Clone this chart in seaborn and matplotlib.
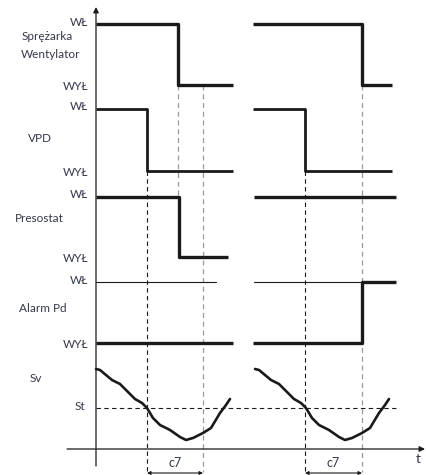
"""Timing diagram: compressor / VPD / pressostat / alarm vs Sv"""
import matplotlib
matplotlib.use("Agg")
import matplotlib.pyplot as plt
import numpy as np
import pandas as pd
import seaborn as sns

# time axis (t = 0 at the vertical axis), two cycles
CYCLE2 = 159

# row levels (ON / OFF) for each signal, top to bottom
ROWS = ["Sprężarka\nWentylator", "VPD", "Presostat", "Alarm Pd"]
LEVEL_ON = [24, 109, 197, 282]
LEVEL_OFF = [85, 171, 257, 343]

# step signals: transition times and the level index (1 = ON, 0 = OFF)
spr_t = [[0, 82, 137], [157, 266, 296]]
spr_s = [[1, 0, 0], [1, 0, 0]]
vpd_t = [[0, 51, 137], [157, 209, 296]]
vpd_s = [[1, 0, 0], [1, 0, 0]]
pre_t = [[0, 83, 132], [158, 300]]
pre_s = [[1, 0, 0], [1, 1]]
alm_t = [[0, 137], [157, 266, 300]]
alm_s = [[0, 0], [0, 1, 1]]
alm_ref_t = [[0, 120], [158, 266]]   # thin ON reference line

# Sv curve (first cycle), St threshold
sv_t = [0, 4, 10, 16, 24, 32, 39, 46, 51, 57, 64, 74, 84, 90, 97, 107,
        115, 118, 124, 130, 134]
sv_v = [369, 370, 375, 380, 384, 392, 399, 403, 408, 418, 425, 430, 437,
        440, 438, 433, 428, 423, 413, 405, 399]
ST = 408
SV_BASE = 449

# delay markers c7
c7_start = [51, 209]
c7_end = [107, 266]
sw_off = [82, 266]

TEXT = "#34384a"
X0 = 96
FS = 8.5

sns.set_theme(style="white")
plt.rcParams["font.family"] = ["Lato", "DejaVu Sans"]

fig = plt.figure(figsize=(4.26, 4.75), dpi=100)
ax = fig.add_axes([0, 0, 1, 1])
ax.set_xlim(-X0, 426 - X0)
ax.set_ylim(475, 0)
ax.axis("off")


def step(ts, ss, row, lw):
    lv = [LEVEL_OFF[row], LEVEL_ON[row]]
    for t, s in zip(ts, ss):
        df = pd.DataFrame({"t": t, "y": [lv[k] for k in s]})
        sns.lineplot(data=df, x="t", y="y", ax=ax, color="#1a1a1a", lw=lw,
                     drawstyle="steps-post", estimator=None, sort=False,
                     solid_capstyle="butt", zorder=3)


step(spr_t, spr_s, 0, 2.4)
step(vpd_t, vpd_s, 1, 2.0)
step(pre_t, pre_s, 2, 2.4)
for t in alm_ref_t:
    ax.plot(t, [LEVEL_ON[3]] * 2, color="#1a1a1a", lw=0.8, zorder=2)
step(alm_t, alm_s, 3, 2.4)

# Sv curves
for off in (0, CYCLE2):
    df = pd.DataFrame({"t": np.array(sv_t) + off, "v": sv_v})
    sns.lineplot(data=df, x="t", y="v", ax=ax, color="#1a1a1a", lw=1.9,
                 estimator=None, sort=False, zorder=3)

# axes with arrows
ax.annotate("", xy=(0, 7), xytext=(0, 466),
            arrowprops=dict(arrowstyle="-|>", color="#1a1a1a", lw=0.9,
                            mutation_scale=8, shrinkA=0, shrinkB=0))
ax.annotate("", xy=(329, SV_BASE), xytext=(-29, SV_BASE),
            arrowprops=dict(arrowstyle="-|>", color="#1a1a1a", lw=0.9,
                            mutation_scale=8, shrinkA=0, shrinkB=0))
ax.text(322, 459, "t", color=TEXT, fontsize=10, ha="center", va="center")

# St threshold
ax.plot([0, 302], [ST, ST], color="#1a1a1a", lw=0.8, ls=(0, (4, 3)),
        zorder=1)

# vertical guide lines
for s in c7_start:
    ax.plot([s, s], [LEVEL_OFF[1], 472], color="#1a1a1a", lw=0.8,
            ls=(0, (4, 3)), zorder=1)
for e in c7_end:
    ax.plot([e, e], [LEVEL_OFF[0], 472], color="#9a9a9a", lw=0.9,
            ls=(0, (4, 3)), zorder=1)
ax.plot([sw_off[0], sw_off[0]], [LEVEL_OFF[0], LEVEL_ON[2]],
        color="#9a9a9a", lw=0.9, ls=(0, (4, 3)), zorder=1)

# c7 dimension arrows
for s, e in zip(c7_start, c7_end):
    ax.annotate("", xy=(e, 473), xytext=(s, 473),
                arrowprops=dict(arrowstyle="<|-|>", color="#1a1a1a", lw=0.8,
                                mutation_scale=5, shrinkA=0, shrinkB=0))
    ax.text((s + e) / 2, 463, "c7", color=TEXT, fontsize=FS + 0.5,
            ha="center", va="center")

# labels
LX = -8
for on, off in zip(LEVEL_ON, LEVEL_OFF):
    ax.text(LX, on - 2, "WŁ", color=TEXT, fontsize=FS, ha="right",
            va="center")
    ax.text(LX, off + 2, "WYŁ", color=TEXT, fontsize=FS, ha="right",
            va="center")
ax.text(-74, 36, "Sprężarka", color=TEXT, fontsize=FS, va="center")
ax.text(-75, 55, "Wentylator", color=TEXT, fontsize=FS, va="center")
ax.text(-68, 138, "VPD", color=TEXT, fontsize=FS, va="center")
ax.text(-81, 219, "Presostat", color=TEXT, fontsize=FS, va="center")
ax.text(-77, 308, "Alarm Pd", color=TEXT, fontsize=FS, va="center")
ax.text(-66, 378, "Sv", color=TEXT, fontsize=FS, va="center")
ax.text(-21, 407, "St", color=TEXT, fontsize=FS, va="center")

fig.savefig("out.png", dpi=100)
